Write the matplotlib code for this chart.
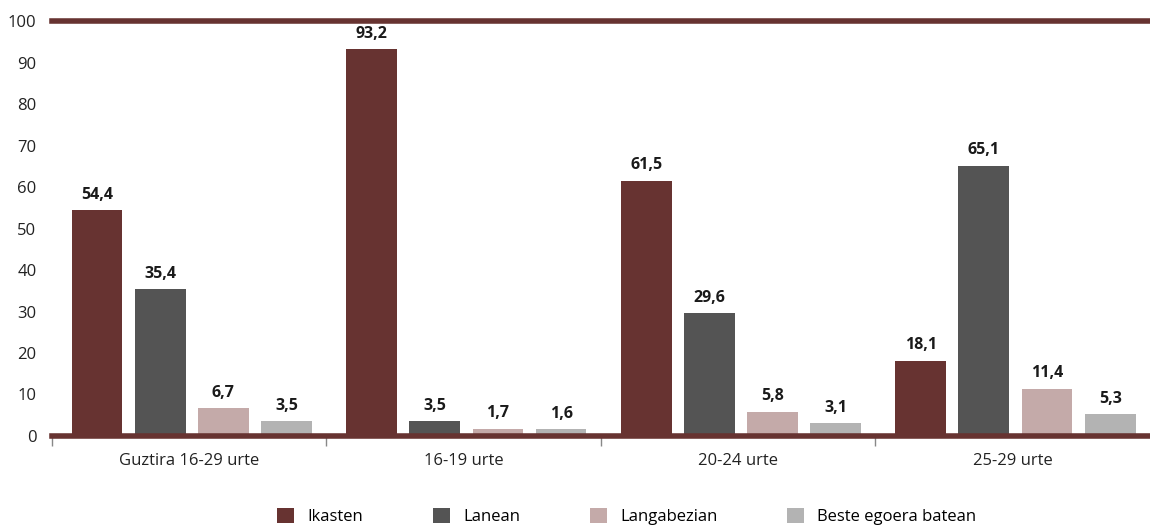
import numpy as np
import matplotlib
matplotlib.use('Agg')
import matplotlib.pyplot as plt

plt.rcParams['font.family'] = ['Open Sans', 'DejaVu Sans']

categories = ['Guztira 16-29 urte', '16-19 urte', '20-24 urte', '25-29 urte']
series_names = ['Ikasten', 'Lanean', 'Langabezian', 'Beste egoera batean']
ikasten = [54.4, 93.2, 61.5, 18.1]
lanean = [35.4, 3.5, 29.6, 65.1]
langabezian = [6.7, 1.7, 5.8, 11.4]
beste = [3.5, 1.6, 3.1, 5.3]
colors = ['#673331', '#545454', '#c4aaa9', '#b3b3b3']

series = [ikasten, lanean, langabezian, beste]

fig = plt.figure(figsize=(11.5, 5.27), dpi=100)
ax = fig.add_axes([0.045, 0.1727, 0.955, 0.7873])

x = np.arange(len(categories))
step = 0.23
width = 0.185
for i, (vals, name, col) in enumerate(zip(series, series_names, colors)):
    pos = x + (i - 1.5) * step + 0.01
    ax.bar(pos, vals, width=width, color=col, label=name, zorder=2)
    for p, v in zip(pos, vals):
        ax.text(p, v + 1.8, f'{v:.1f}'.replace('.', ','), ha='center', va='bottom',
                fontsize=11.5, fontweight='bold', color='#1a1a1a')

ax.set_xlim(-0.5, len(categories) - 0.5)
ax.set_ylim(0, 100)
ax.set_yticks(range(0, 101, 10))
ax.tick_params(axis='y', length=0, labelsize=12, labelcolor='#222222', pad=11)

# category labels centred, ticks at group boundaries
ax.set_xticks(x)
ax.set_xticklabels(categories, fontsize=12, color='#222222')
ax.tick_params(axis='x', length=0, pad=12)
ax.set_xticks(np.arange(-0.5, len(categories) - 0.5, 1), minor=True)
ax.tick_params(axis='x', which='minor', length=7, color='#888888', width=1)

for s in ['left', 'right', 'top', 'bottom']:
    ax.spines[s].set_visible(False)
ax.axhline(0, color='#673331', lw=4, zorder=3, clip_on=False)
ax.axhline(100, color='#673331', lw=4, zorder=3, clip_on=False)

fig.legend(loc='lower center', bbox_to_anchor=(0.545, -0.025), ncol=4, frameon=False,
           fontsize=12, handlelength=1.0, handleheight=1.0, columnspacing=4.2,
           handletextpad=0.8)

fig.savefig('out.png', dpi=100)
